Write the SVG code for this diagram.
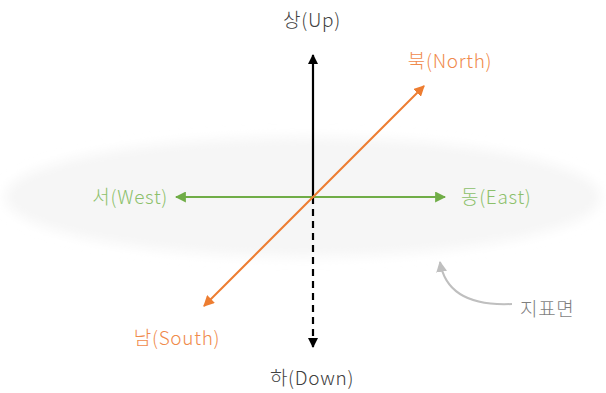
<svg xmlns="http://www.w3.org/2000/svg" width="606" height="393" viewBox="0 0 606 393">
<defs>
<filter id="blur" x="-10%" y="-30%" width="120%" height="160%"><feGaussianBlur stdDeviation="6"/></filter>
<marker id="mk" viewBox="0 0 10 10" refX="9" refY="5" markerWidth="10" markerHeight="10" markerUnits="userSpaceOnUse" orient="auto-start-reverse"><path d="M0,0 L10,5 L0,10 z" fill="#000"/></marker>
<marker id="mo" viewBox="0 0 10 10" refX="9" refY="5" markerWidth="11" markerHeight="11" markerUnits="userSpaceOnUse" orient="auto-start-reverse"><path d="M0,0 L10,5 L0,10 z" fill="#ed7d31"/></marker>
<marker id="mg" viewBox="0 0 10 10" refX="9" refY="5" markerWidth="11" markerHeight="11" markerUnits="userSpaceOnUse" orient="auto-start-reverse"><path d="M0,0 L10,5 L0,10 z" fill="#70ad47"/></marker>
<marker id="mgr" viewBox="0 0 10 10" refX="9" refY="5" markerWidth="11" markerHeight="11" markerUnits="userSpaceOnUse" orient="auto"><path d="M0,0 L10,5 L0,10 z" fill="#bfbfbf"/></marker>
</defs>
<style>
text{font-family:"Noto Sans CJK KR","Noto Sans",sans-serif;font-size:19px;font-weight:300;letter-spacing:0.7px}
.gray{fill:#404040}
.or{fill:#f08a4b}
.gr{fill:#8cc06a}
.sf{fill:#7f7f7f}
</style>
<rect width="606" height="393" fill="#fff"/>
<g id="surface"><ellipse cx="303" cy="197" rx="298" ry="60" fill="#f6f6f6" filter="url(#blur)"/></g>
<g id="connectors">
<line x1="313" y1="197" x2="313" y2="55" stroke="#000" stroke-width="2.2" marker-end="url(#mk)"/>
<line x1="313" y1="197" x2="313" y2="347" stroke="#000" stroke-width="2.2" stroke-dasharray="7,5" marker-end="url(#mk)"/>
<line x1="176" y1="197" x2="445" y2="197" stroke="#70ad47" stroke-width="2" marker-start="url(#mg)" marker-end="url(#mg)"/>
<line x1="204" y1="306" x2="424" y2="86" stroke="#ed7d31" stroke-width="2" marker-start="url(#mo)" marker-end="url(#mo)"/>
<path d="M512,304 C470,306 445,292 440,262" fill="none" stroke="#bfbfbf" stroke-width="2" marker-end="url(#mgr)"/>
</g>
<g id="up"><text x="312" y="27" text-anchor="middle" class="gray">상(Up)</text></g>
<g id="down"><text x="312" y="385" text-anchor="middle" class="gray">하(Down)</text></g>
<g id="north"><text x="450" y="68" text-anchor="middle" class="or">북(North)</text></g>
<g id="south"><text x="177" y="345" text-anchor="middle" class="or">남(South)</text></g>
<g id="west"><text x="168" y="204" text-anchor="end" class="gr">서(West)</text></g>
<g id="east"><text x="461" y="204" class="gr">동(East)</text></g>
<g id="label"><text x="520" y="316" class="sf">지표면</text></g>
</svg>
